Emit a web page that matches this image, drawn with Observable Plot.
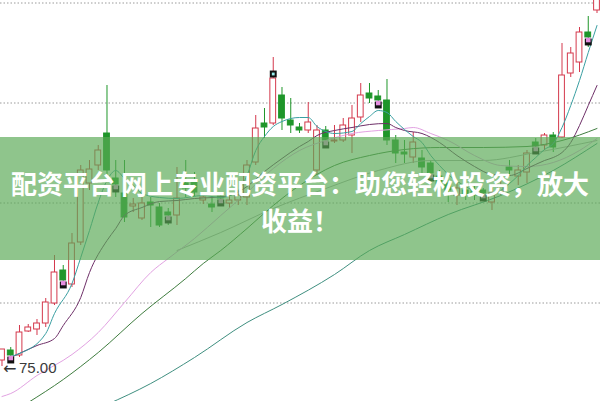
<!DOCTYPE html>
<html><head><meta charset="utf-8">
<script src="https://cdn.jsdelivr.net/npm/d3@7"></script>
<script src="https://cdn.jsdelivr.net/npm/@observablehq/plot@0.6"></script>
<style>
html,body{margin:0;padding:0;background:#fff;}
#wrap{position:relative;width:600px;height:401px;overflow:hidden;}
#chart svg{display:block;}
#banner{position:absolute;left:0;top:137px;width:600px;height:123px;background:rgba(90,170,85,0.68);}
#banner .t{position:absolute;left:0;width:600px;text-align:center;color:#fff;font-family:"Noto Sans CJK SC",sans-serif;font-weight:700;font-size:26px;line-height:26px;white-space:nowrap;}
</style></head><body>
<div id="wrap"><div id="chart"></div><div id="banner"><div class="t" id="l1" style="top:33px"></div><div class="t" id="l2" style="top:70px"></div></div></div>
<script>
// ---- data ----
const bannerLines = ["配资平台 网上专业配资平台：助您轻松投资，放大", "收益！"];
const open  = [75.6,76.6,76.1,78.5,78.7,79.3,81.3,84.6,83.2,87.4, 93.3,95.1,98.3,93.8,92.3,91.0,89.8,91.4,90.9,90.4, 90.1,93.3,93.6,91.6,91.2,92.0,91.3,91.6,91.9,95.4, 99.3,99.3,102.1,99.6,98.9,98.6,94.6,98.6,97.5,97.6, 98.1,99.9,102.3,102.0,101.6,97.6,96.4,95.9,95.8,95.3, 94.0,93.3,92.1,92.6,92.6,92.6,91.4,92.4,94.9,94.0, 94.4,97.4,97.1,98.1,97.9,104.3,105.4,108.4,110.6];
const close = [76.7,76.1,78.4,78.9,79.3,81.4,84.4,83.6,87.3,94.6, 94.7,96.6,94.6,93.2,89.9,91.2,91.3,91.1,89.1,90.1, 91.8,92.8,92.4,91.9,90.9,91.8,91.6,92.1,95.1,98.8, 98.9,103.8,99.8,99.1,98.6,99.4,98.6,97.6,97.6,99.1, 99.8,102.1,101.8,101.6,97.6,96.3,96.2,97.4,94.9,94.3, 93.2,92.6,92.8,92.2,92.1,92.3,92.3,93.1,94.6,94.6, 96.3,97.0,98.1,96.9,104.1,106.3,108.4,107.9,112.0];
const high  = [76.7,76.9,79.1,79.2,79.7,81.8,86.1,85.1,88.3,95.1, 95.6,97.1,103.1,95.6,95.6,91.8,92.3,91.9,91.3,90.8, 94.9,95.6,94.4,92.3,92.0,92.4,92.1,92.6,95.6,100.1, 100.8,105.9,102.9,101.8,99.3,101.4,99.1,99.0,99.1,99.8, 101.1,103.3,103.3,102.6,103.7,98.1,97.6,98.4,96.6,95.6, 94.6,93.6,93.4,93.1,93.1,92.8,92.8,93.6,95.6,95.1, 96.6,97.8,98.3,98.4,107.3,106.9,108.9,110.0,112.5];
const low   = [75.0,75.8,75.9,78.4,78.1,78.9,81.1,82.8,82.9,87.1, 92.6,94.6,94.1,91.9,89.4,90.4,89.6,88.9,88.9,89.1, 89.1,91.9,92.0,91.2,90.4,91.2,90.8,91.1,91.1,95.1, 97.8,99.1,98.6,98.3,98.3,98.3,94.1,96.9,97.3,97.4, 96.3,99.4,101.3,100.8,97.1,95.3,95.3,95.3,94.3,93.6, 92.1,91.4,91.1,91.6,91.6,91.6,90.6,92.1,94.1,93.1, 93.3,96.6,96.6,96.4,97.8,103.9,104.4,106.9,110.3];

const markerIdx = [1,7,13,19,25,31,37,43,49,55,61,67];
const markerAbove = [31];

const gridLevels = [111.35, 101.35, 91.35, 81.35];

const ma5Idx = [1,2,5,6,8,9,10,11,12,13,14,15,16,18,20,23,25,27,28,29,30,31,32,33,34,35,36,37,38,40,41,42,43,44,45,46,47,48,49,50,51,53,55,56,57,58,59,60,61,62,63,64,65,66,67,68];
const ma5Val = [76.0,76.3,78.3,80.3,83.3,85.9,88.6,91.4,93.6,94.6,93.8,93.1,92.3,91.9,91.8,92.1,91.9,92.6,94.1,96.6,98.0,99.0,99.5,99.8,99.9,99.9,99.0,98.5,98.3,98.5,99.3,100.0,100.6,100.4,99.5,98.7,98.0,97.4,96.1,95.1,94.2,93.0,92.2,92.1,92.6,93.3,94.1,95.1,95.9,96.7,97.3,98.9,101.1,103.6,106.4,109.1];

const ma10Idx = [1,4,6,7,9,10,12,13,14,16,18,20,22,24,26,28,30,32,34,35,36,38,40,42,44,45,46,48,50,52,54,56,58,60,62,63,64,65,66,67,68];
const ma10Val = [75.9,77.1,77.8,79.1,81.9,84.4,87.6,88.8,90.1,90.9,91.5,91.6,91.8,91.9,92.1,93.0,94.5,95.8,97.0,97.5,98.1,98.6,98.9,99.2,99.3,98.9,98.6,98.3,97.4,96.1,95.0,94.2,94.1,94.8,95.6,95.9,96.4,97.4,99.1,101.1,103.1];

const ma20Idx = [0,1,4,8,11,14,17,19,22,25,28,31,34,37,40,43,46,47,49,51,54,57,60,63,66,68];
const ma20Val = [72.0,72.3,74.1,76.2,78.4,81.4,84.4,85.8,87.8,90.1,92.4,94.8,96.6,97.6,98.3,98.6,98.8,98.9,98.3,97.6,96.1,95.1,95.0,95.4,96.6,97.8];

const ma30Idx = [3,7,11,16,21,23,25,28,31,34,38,42,46,50,55,60,64,68];
const ma30Val = [71.4,73.7,76.4,80.3,83.8,85.3,86.6,88.8,91.1,93.1,95.1,96.1,96.7,96.9,96.9,97.0,97.6,98.8];

const ma60Idx = [20,25,31,37,43,49,55,61,68];
const ma60Val = [86.6,88.4,90.8,92.8,94.6,95.6,95.6,96.4,97.6];

const ma120Idx = [12,17,22,28,32,38,42,46,51,57,63,68];
const ma120Val = [71.2,73.3,75.9,79.4,81.2,84.2,86.6,88.2,90.2,92.1,94.6,97.3];

// ---- build ----
document.getElementById("l1").textContent = bannerLines[0];
document.getElementById("l2").textContent = bannerLines[1];

const candles = open.map((o, i) => ({i, o, c: close[i], h: high[i], l: low[i]}));
const up = candles.filter(d => d.c >= d.o);
const down = candles.filter(d => d.c < d.o);
const RED = "#d4384c", GREEN = "#1f962a";
const series = (idx, val) => idx.map((n, k) => ({n, v: val[k]}));
const markers = markerIdx.map(i => candles[i]);
const mBelow = markers.filter(d => !markerAbove.includes(d.i));
const mAbove = markers.filter(d => markerAbove.includes(d.i));
const minC = candles.reduce((a, b) => (b.l < a.l ? b : a));
const hw = 0.33;

const lineOpts = (stroke, w = 1) => ({x: "n", y: "v", stroke, strokeWidth: w, curve: "monotone-x"});

const chart = Plot.plot({
  width: 600, height: 401,
  marginTop: 0, marginRight: 0, marginBottom: 0, marginLeft: 0,
  x: {type: "linear", domain: [-0.1714, 68.4], axis: null},
  y: {domain: [71.5, 111.6], axis: null},
  style: {background: "transparent", overflow: "hidden"},
  marks: [
    Plot.ruleY(gridLevels, {stroke: "#9a9a9a", strokeWidth: 1, strokeDasharray: "1.5,2"}),
    Plot.ruleX(up, {x: "i", y1: "l", y2: "h", stroke: RED, strokeWidth: 1}),
    Plot.ruleX(down, {x: "i", y1: "l", y2: "h", stroke: GREEN, strokeWidth: 1}),
    Plot.rect(up, {x1: d => d.i - hw, x2: d => d.i + hw, y1: "o", y2: "c", fill: "#fff", stroke: RED, strokeWidth: 1}),
    Plot.rect(down, {x1: d => d.i - hw, x2: d => d.i + hw, y1: "c", y2: "o", fill: GREEN, stroke: GREEN, strokeWidth: 1}),
    Plot.line(series(ma120Idx, ma120Val), lineOpts("#3f8f80")),
    Plot.line(series(ma60Idx, ma60Val), lineOpts("#ababab")),
    Plot.line(series(ma30Idx, ma30Val), lineOpts("#3f7d3f")),
    Plot.line(series(ma20Idx, ma20Val), lineOpts("#e2a2e2")),
    Plot.line(series(ma10Idx, ma10Val), lineOpts("#6e2f68")),
    Plot.line(series(ma5Idx, ma5Val), lineOpts("#3a9fa2")),
    Plot.dot(mBelow, {x: "i", y: d => Math.min(d.o, d.c), symbol: "square", r: 3.9, fill: "#111", dy: 4.5}),
    Plot.dot(mBelow, {x: "i", y: d => Math.min(d.o, d.c), symbol: "square", r: 2.6, fill: "#e58fe0", dy: 2.5}),
    Plot.dot(mAbove, {x: "i", y: d => Math.max(d.o, d.c), symbol: "square", r: 3.9, fill: "#111", dy: -4.5}),
    Plot.dot(mAbove, {x: "i", y: d => Math.max(d.o, d.c), symbol: "square", r: 1.6, fill: "#9ee", dy: -4.5}),
    Plot.text([minC], {x: "i", y: "l", text: () => "\u2190", textAnchor: "start", dx: 1, dy: 2, fontSize: 16, fill: "#333", fontFamily: "DejaVu Sans, sans-serif"}),
    Plot.text([minC], {x: "i", y: "l", text: d => d.l.toFixed(2), textAnchor: "start", dx: 17, dy: 2, fontSize: 15, fill: "#3a3a3a", fontFamily: "Liberation Sans, Arial, sans-serif"})
  ]
});
document.getElementById("chart").append(chart);
</script>
</body></html>
